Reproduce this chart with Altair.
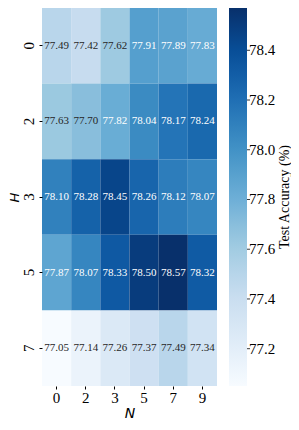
import altair as alt
import pandas as pd

H_vals = ["0", "2", "3", "5", "7"]
N_vals = ["0", "2", "3", "5", "7", "9"]
acc = [
    [77.49, 77.42, 77.62, 77.91, 77.89, 77.83],
    [77.63, 77.70, 77.82, 78.04, 78.17, 78.24],
    [78.10, 78.28, 78.45, 78.26, 78.12, 78.07],
    [77.87, 78.07, 78.33, 78.50, 78.57, 78.32],
    [77.05, 77.14, 77.26, 77.37, 77.49, 77.34],
]
legend_ticks = [77.2, 77.4, 77.6, 77.8, 78.0, 78.2, 78.4]
cbar_title = ["Test Accuracy (%)"]
vmin, vmax = 77.05, 78.57
blues = ["#f7fbff", "#deebf7", "#c6dbef", "#9ecae1", "#6baed6",
         "#4292c6", "#2171b5", "#08519c", "#08306b"]

rows = []
for i, h in enumerate(H_vals):
    for j, n in enumerate(N_vals):
        rows.append({"H": h, "N": n, "acc": acc[i][j], "label": f"{acc[i][j]:.2f}"})
df = pd.DataFrame(rows)

color_domain = [vmin + k * (vmax - vmin) / (len(blues) - 1) for k in range(len(blues))]

serif = "Liberation Serif"
W, Hh = 175, 378

base = alt.Chart(df).encode(
    x=alt.X("N:O", sort=N_vals, title="N",
            axis=alt.Axis(labelAngle=0, labelFont=serif, labelFontSize=15,
                          titleFont="DejaVu Sans", titleFontStyle="italic",
                          titleFontSize=14, titleFontWeight="normal",
                          tickSize=3, domain=False, labelPadding=1, titlePadding=1)),
    y=alt.Y("H:O", sort=H_vals, title="H",
            axis=alt.Axis(labelAngle=270, labelFont=serif, labelFontSize=15,
                          labelAlign="center", labelBaseline="bottom",
                          titleFont="DejaVu Sans", titleFontStyle="italic",
                          titleFontSize=13, titleFontWeight="normal",
                          titleX=-28, titleY=Hh / 2, titleAngle=270,
                          titleAlign="center", titleBaseline="middle",
                          tickSize=3, domain=False, labelPadding=3)),
)

rect = base.mark_rect().encode(
    color=alt.Color("acc:Q",
                    scale=alt.Scale(domain=color_domain, range=blues, interpolate="rgb"),
                    legend=alt.Legend(title=None, values=legend_ticks, format=".1f"))
)

text = base.mark_text(font=serif, fontSize=11).encode(
    text="label:N",
    color=alt.condition(alt.datum.acc > 77.78, alt.value("white"), alt.value("#262626")),
)

heat = alt.layer(rect, text)

tick_layer = alt.Chart(pd.DataFrame({"v": legend_ticks})).mark_rule(
    color="black", strokeWidth=0.8
).encode(
    y=alt.Y("v:Q", scale=alt.Scale(domain=[vmin, vmax], nice=False, zero=False), axis=None),
    x=alt.value(W + 12 + 18),
    x2=alt.value(W + 12 + 18 + 3),
)

title_layer = alt.Chart(pd.DataFrame({"t": cbar_title})).mark_text(
    angle=270, font=serif, fontSize=14, color="black", align="center", baseline="middle"
).encode(x=alt.value(W + 68), y=alt.value(Hh / 2), text="t:N")

chart = alt.layer(heat, tick_layer, title_layer).resolve_scale(
    y="independent"
).properties(
    width=W, height=Hh,
    autosize=alt.AutoSizeParams(type="none"),
    padding={"left": 34, "top": 0, "right": 74, "bottom": 36},
).configure_view(stroke=None).configure_scale(bandPaddingInner=0).configure_legend(
    gradientLength=Hh, gradientThickness=18, offset=12,
    labelFont=serif, labelFontSize=15, labelColor="black",
    gradientStrokeWidth=0, labelOffset=2, padding=0,
).configure_axis(labelColor="black", titleColor="black", tickColor="black")

chart.save("out.html", embed_options={"renderer": "svg", "actions": False})
